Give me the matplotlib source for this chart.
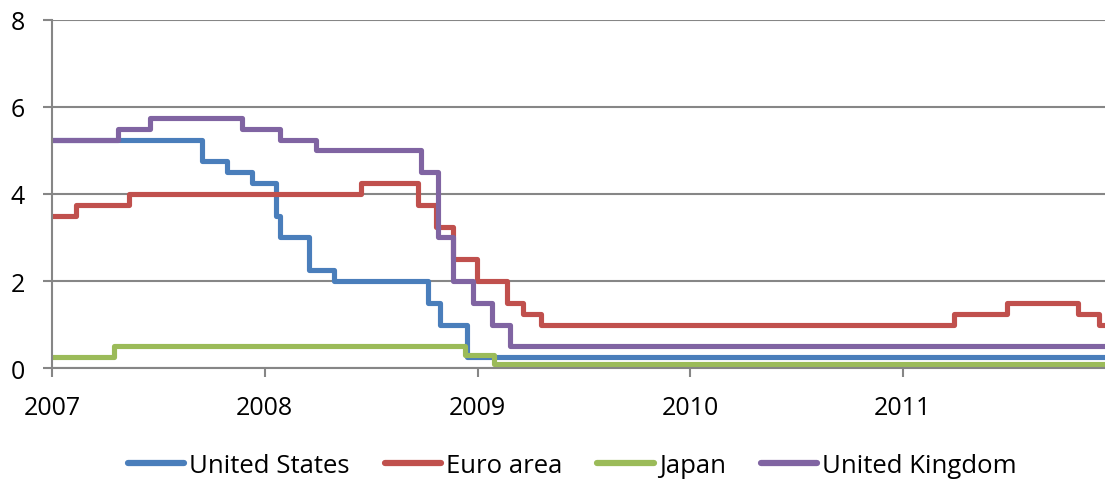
import pandas as pd
import matplotlib.pyplot as plt
import matplotlib.dates as mdates

plt.rcParams['font.family'] = ['Open Sans', 'DejaVu Sans']

# policy rate changes (date, new rate in %)
us_dates = ['2007-01-01', '2007-09-15', '2007-10-29', '2007-12-10', '2008-01-20',
            '2008-01-27', '2008-03-17', '2008-04-29', '2008-10-07', '2008-10-28',
            '2008-12-14']
us_rates = [5.25, 4.75, 4.50, 4.25, 3.50, 3.00, 2.25, 2.00, 1.50, 1.00, 0.25]

euro_dates = ['2007-01-01', '2007-02-12', '2007-05-14', '2008-06-15', '2008-09-21',
              '2008-10-21', '2008-11-19', '2008-12-30', '2009-02-20', '2009-03-19',
              '2009-04-20', '2011-03-30', '2011-06-28', '2011-10-28', '2011-12-04']
euro_rates = [3.50, 3.75, 4.00, 4.25, 3.75, 3.25, 2.50, 2.00, 1.50, 1.25, 1.00,
              1.25, 1.50, 1.25, 1.00]

japan_dates = ['2007-01-01', '2007-04-18', '2008-12-10', '2009-01-29']
japan_rates = [0.25, 0.50, 0.30, 0.10]

uk_dates = ['2007-01-01', '2007-04-25', '2007-06-19', '2007-11-24', '2008-01-28',
            '2008-03-30', '2008-09-25', '2008-10-25', '2008-11-20', '2008-12-24',
            '2009-01-26', '2009-02-25']
uk_rates = [5.25, 5.50, 5.75, 5.50, 5.25, 5.00, 4.50, 3.00, 2.00, 1.50, 1.00, 0.50]

end_date = '2011-12-14'
years = ['2007', '2008', '2009', '2010', '2011']

series = [
    ('United States', us_dates, us_rates, '#4a7ebb'),
    ('Euro area', euro_dates, euro_rates, '#c0504d'),
    ('Japan', japan_dates, japan_rates, '#9bbb59'),
    ('United Kingdom', uk_dates, uk_rates, '#8064a2'),
]

fig = plt.figure(figsize=(11.05, 4.85), dpi=100)
ax = fig.add_axes([0.047, 0.239, 0.953, 0.718])

for name, dates, rates, color in series:
    d = pd.to_datetime(dates + [end_date])
    r = rates + [rates[-1]]
    ax.step(d, r, where='post', color=color, lw=3.7, label=name,
            solid_joinstyle='round', solid_capstyle='butt')

ax.set_xlim(pd.Timestamp('2007-01-01'), pd.Timestamp(end_date))
ax.set_ylim(0, 8)
ax.set_yticks([0, 2, 4, 6, 8])
ax.set_xticks(pd.to_datetime([y + '-01-01' for y in years]))
ax.xaxis.set_major_formatter(mdates.DateFormatter('%Y'))

grid_c = '#868686'
ax.yaxis.grid(True, color=grid_c, lw=1.5)
ax.set_axisbelow(True)
for side in ['top', 'right']:
    ax.spines[side].set_visible(False)
for side in ['left', 'bottom']:
    ax.spines[side].set_color(grid_c)
    ax.spines[side].set_linewidth(1.5)

ax.tick_params(axis='y', length=6.5, width=1.5, color=grid_c, pad=13,
               labelsize=18, labelcolor='black')
ax.tick_params(axis='x', length=6.5, width=1.5, color=grid_c, pad=13,
               labelsize=18, labelcolor='black')

leg = fig.legend(loc='center', ncol=4, frameon=False, fontsize=18.5,
                 bbox_to_anchor=(0.518, 0.039), handlelength=2.2,
                 handletextpad=0.2, columnspacing=1.35)
for h in leg.legend_handles:
    h.set_linewidth(4.5)
    h.set_solid_capstyle('round')

fig.savefig('out.png', dpi=100)
